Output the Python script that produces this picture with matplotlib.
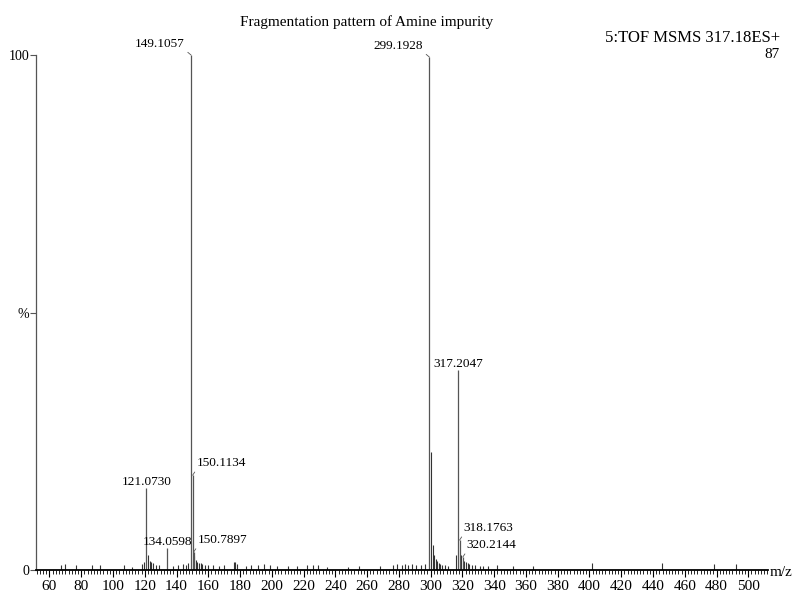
import matplotlib
matplotlib.use('Agg')
import matplotlib.pyplot as plt
from matplotlib.ticker import MultipleLocator

plt.rcParams['font.family'] = ['Liberation Serif', 'DejaVu Serif']

# labelled ions (m/z, relative intensity %)
peak_mz = [121.0730, 134.0598, 149.1057, 150.1134, 150.7897,
           299.1928, 317.2047, 318.1763, 320.2144]
peak_int = [16.0, 4.2, 100.0, 18.4, 3.5, 99.6, 38.8, 5.8, 2.5]

# unlabelled ions
minor_mz = [67, 70, 77, 87, 92, 107, 112, 118, 119.5, 122.07, 123.0, 124.05,
            125.0, 127, 129, 138, 141, 144, 146, 147.1, 151.1, 152.1, 153.1,
            154.1, 155.1, 156.0, 158.0, 160.0, 163.0, 167, 170, 176.1, 177.1,
            178.1, 184, 187, 191, 195, 199, 203, 210, 216, 222, 226, 229, 235,
            248, 255, 268, 276, 279, 282, 284, 286, 288, 291, 294, 296.5,
            300.19, 301.2, 302.2, 303.2, 304.2, 305.2, 306.1, 307.1, 309.0,
            311.0, 316.2, 319.2, 321.2, 322.2, 323.2, 324.2, 326.0, 328.0,
            331.0, 333.0, 336, 341.8, 352, 364.5, 401.6, 445.6, 478.4, 492]
minor_int = [1.0, 1.1, 1.0, 1.0, 0.9, 1.0, 0.6, 1.2, 1.5, 3.0, 1.8, 1.6,
             1.4, 1.0, 1.0, 0.8, 0.9, 1.1, 1.0, 1.4, 2.8, 2.0, 1.6,
             1.4, 1.3, 1.1, 0.9, 1.0, 0.9, 0.8, 0.9, 1.5, 1.6,
             1.2, 0.8, 0.9, 1.0, 1.1, 1.0, 0.8, 0.7, 0.7, 0.9, 1.0, 1.0, 0.6,
             0.6, 0.7, 0.8, 1.0, 1.2, 1.0, 1.2, 1.0, 1.1, 0.9, 1.0, 1.2,
             22.9, 4.9, 3.0, 2.2, 1.8, 1.4, 1.2, 1.0, 0.9,
             0.8, 3.0, 3.0, 1.8, 1.6, 1.3, 1.2, 1.0, 0.9,
             0.8, 0.8, 0.7, 0.9, 0.7, 0.8, 1.3, 1.3, 1.2, 1.1]

# where each peak label sits relative to its peak
placement = {121.0730: 'top', 134.0598: 'top', 149.1057: 'left',
             150.1134: 'right', 150.7897: 'right', 299.1928: 'left',
             317.2047: 'top', 318.1763: 'right', 320.2144: 'right'}

fig = plt.figure(figsize=(7.93, 5.96), dpi=100)
ax = fig.add_axes([36 / 793, 26 / 596, 732 / 793, 515 / 596])

ax.vlines(minor_mz, 0, minor_int, color='#333333', lw=0.8)
ax.vlines(peak_mz, 0, peak_int, color='#555555', lw=0.9)

ax.set_xlim(51.5, 512.4)
ax.set_ylim(0, 100)

for s in ['top', 'right']:
    ax.spines[s].set_visible(False)
ax.spines['left'].set_color('#555555')
ax.spines['left'].set_linewidth(0.9)
ax.spines['bottom'].set_linewidth(1.3)

ax.xaxis.set_major_locator(MultipleLocator(20))
ax.xaxis.set_minor_locator(MultipleLocator(2))
ax.tick_params(axis='x', which='major', length=5, width=0.8, labelsize=11, pad=2)
ax.tick_params(axis='x', which='minor', length=3, width=0.6)
ax.set_yticks([0, 50, 100])
ax.set_yticklabels(['0', '%', '100'])
ax.tick_params(axis='y', length=4, width=0.8, labelsize=10, pad=1, color='#555555')

line_kw = dict(arrowstyle='-', lw=0.6, color='#555555', shrinkA=0, shrinkB=0)
for mz, h in zip(peak_mz, peak_int):
    label = f'{mz:.4f}'
    side = placement[mz]
    if side == 'top':
        ax.annotate(label, (mz, h), xytext=(0, 3), textcoords='offset pixels',
                    ha='center', va='baseline', fontsize=9.5)
    elif side == 'left':
        ax.annotate(label, (mz, h), xytext=(-6, 8), textcoords='offset pixels',
                    ha='right', va='baseline', fontsize=9.5,
                    arrowprops=dict(relpos=(1, 0), **line_kw))
    else:
        ax.annotate(label, (mz, h), xytext=(4, 9), textcoords='offset pixels',
                    ha='left', va='baseline', fontsize=9.5,
                    arrowprops=dict(relpos=(0, 0), **line_kw))

fig.text(367 / 793, 1 - 22 / 596, 'Fragmentation pattern of Amine impurity',
         ha='center', va='center', fontsize=11)
fig.text(780 / 793, 1 - 38 / 596, '5:TOF MSMS 317.18ES+',
         ha='right', va='center', fontsize=12)
fig.text(780 / 793, 1 - 55 / 596, '87', ha='right', va='center', fontsize=11)
fig.text(770 / 793, 1 - 573 / 596, 'm/z', ha='left', va='center', fontsize=11)

fig.savefig('out.png', dpi=100)
